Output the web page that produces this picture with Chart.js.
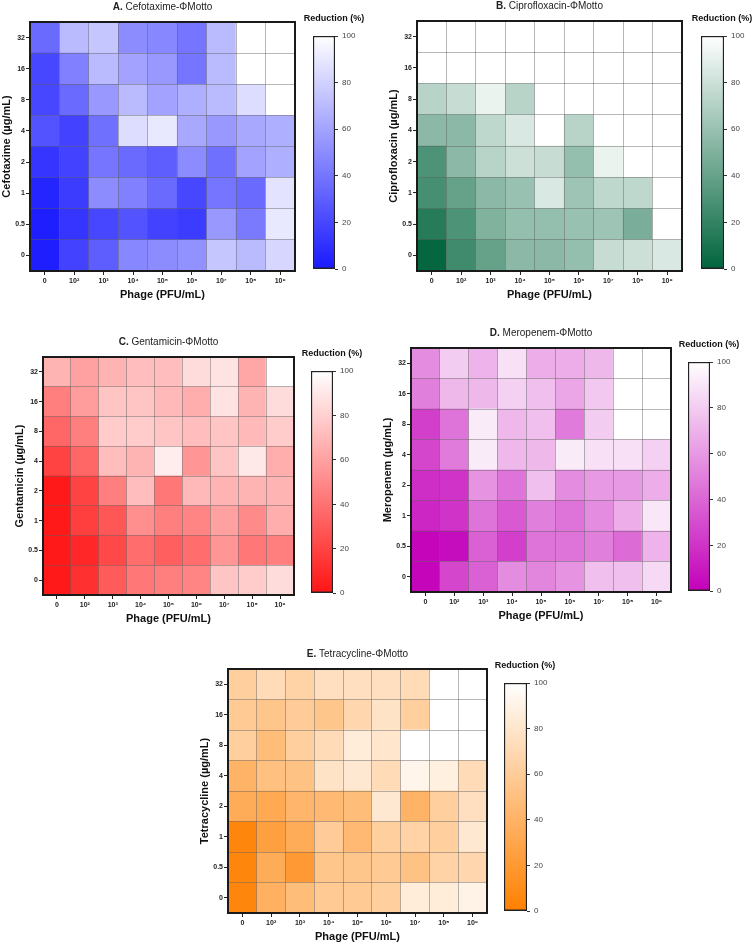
<!DOCTYPE html>
<html>
<head>
<meta charset="utf-8">
<script src="https://cdn.jsdelivr.net/npm/chart.js@4.4.1/dist/chart.umd.min.js"></script>
<style>
  html, body { margin: 0; padding: 0; background: #fff; }
  body { position: relative; width: 755px; height: 944px; overflow: hidden; }
  canvas { position: absolute; }
</style>
</head>
<body>
<script>
// columns: phage titre, rows: antibiotic concentration (bottom -> top)
const phageLabels = ['0', '10²', '10³', '10⁴', '10⁵', '10⁶', '10⁷', '10⁸', '10⁹'];
const concLabels = ['0', '0.5', '1', '2', '4', '8', '16', '32'];
const barTicks = [0, 20, 40, 60, 80, 100];

// reduction (%) per row, first row = 0 µg/mL, last row = 32 µg/mL
const cefotaxime = [
  [2, 18, 30, 48, 50, 52, 75, 70, 82],
  [2, 12, 20, 25, 18, 15, 55, 42, 90],
  [5, 15, 50, 45, 35, 20, 40, 35, 88],
  [12, 18, 40, 35, 30, 50, 38, 60, 65],
  [25, 18, 38, 85, 90, 62, 55, 62, 65],
  [20, 35, 55, 70, 60, 65, 70, 85, 100],
  [20, 45, 70, 60, 55, 40, 70, 100, 100],
  [35, 70, 75, 50, 48, 40, 70, 100, 100]
];
const ciprofloxacin = [
  [2, 25, 40, 55, 55, 58, 78, 80, 85],
  [15, 30, 50, 58, 58, 60, 62, 48, 100],
  [28, 40, 55, 60, 85, 62, 75, 75, 100],
  [30, 55, 72, 80, 78, 58, 92, 100, 100],
  [55, 55, 75, 85, 100, 72, 100, 100, 100],
  [72, 78, 92, 72, 100, 100, 100, 100, 100],
  [100, 100, 100, 100, 100, 100, 100, 100, 100],
  [100, 100, 100, 100, 100, 100, 100, 100, 100]
];
const gentamicin = [
  [2, 12, 30, 42, 45, 48, 75, 78, 85],
  [2, 8, 22, 38, 32, 38, 55, 42, 45],
  [2, 18, 28, 52, 45, 48, 60, 50, 65],
  [2, 20, 45, 72, 42, 70, 68, 68, 68],
  [20, 35, 72, 68, 92, 55, 75, 90, 65],
  [35, 45, 78, 78, 75, 72, 75, 70, 78],
  [45, 58, 75, 75, 70, 65, 88, 68, 85],
  [68, 60, 68, 72, 72, 85, 88, 62, 100]
];
const meropenem = [
  [2, 28, 38, 55, 52, 58, 75, 75, 85],
  [2, 5, 38, 25, 45, 45, 50, 42, 70],
  [15, 20, 45, 35, 50, 45, 55, 68, 90],
  [18, 20, 58, 45, 75, 55, 60, 60, 68],
  [28, 48, 92, 72, 72, 92, 88, 88, 82],
  [25, 45, 92, 72, 75, 48, 80, 100, 100],
  [50, 72, 72, 82, 75, 65, 78, 100, 100],
  [55, 80, 70, 88, 68, 68, 72, 100, 100]
];
const tetracycline = [
  [5, 38, 48, 58, 58, 62, 85, 85, 90],
  [5, 35, 20, 55, 55, 58, 52, 65, 68],
  [5, 25, 35, 60, 45, 62, 65, 62, 82],
  [35, 32, 42, 45, 48, 82, 40, 62, 75],
  [40, 50, 52, 78, 82, 72, 92, 88, 72],
  [62, 48, 62, 72, 85, 80, 100, 100, 100],
  [58, 55, 60, 55, 68, 78, 62, 100, 100],
  [62, 72, 65, 75, 75, 75, 72, 100, 100]
];

const FONT = '"Liberation Sans", Arial, Helvetica, sans-serif';
Chart.defaults.font.family = FONT;
Chart.defaults.animation = false;

function shade(base, v) {
  const t = v / 100;
  const c = base.map(b => Math.round(b + (255 - b) * t));
  return `rgb(${c[0]},${c[1]},${c[2]})`;
}

function addCanvas(left, top, w, h) {
  const cv = document.createElement('canvas');
  cv.width = w; cv.height = h;
  cv.style.left = left + 'px'; cv.style.top = top + 'px';
  cv.style.width = w + 'px'; cv.style.height = h + 'px';
  document.body.appendChild(cv);
  return cv;
}

// frame round the plot and the panel heading (bold letter + name)
const framePlugin = {
  id: 'frame',
  afterDraw(chart, args, opts) {
    const { ctx, chartArea: a } = chart;
    ctx.save();
    ctx.lineWidth = 2;
    ctx.strokeStyle = '#1a1a1a';
    ctx.strokeRect(a.left, a.top, a.right - a.left, a.bottom - a.top);
    ctx.fillStyle = '#222';
    ctx.textBaseline = 'middle';
    ctx.textAlign = 'left';
    ctx.font = 'bold 10px ' + FONT;
    const head = opts.letter + ' ';
    const w1 = ctx.measureText(head).width;
    ctx.font = '10px ' + FONT;
    const w2 = ctx.measureText(opts.text).width;
    const x = (a.left + a.right) / 2 - (w1 + w2) / 2;
    const y = a.top - 15;
    ctx.font = 'bold 10px ' + FONT;
    ctx.fillText(head, x, y);
    ctx.font = '10px ' + FONT;
    ctx.fillText(opts.text, x + w1, y);
    ctx.restore();
  }
};

const barLabelPlugin = {
  id: 'barLabel',
  afterDraw(chart) {
    const { ctx, chartArea: a } = chart;
    ctx.save();
    ctx.fillStyle = '#111';
    ctx.font = 'bold 9px ' + FONT;
    ctx.textAlign = 'center';
    ctx.textBaseline = 'middle';
    ctx.fillText('Reduction (%)', a.left + 21, a.top - 17);
    ctx.restore();
  }
};

const GRID = 'rgba(95,95,95,0.45)';
const NONE = 'rgba(0,0,0,0)';

function heatmap(plot, values, base, letter, name, yTitle) {
  const cv = addCanvas(plot.l - 30, plot.t - 22, plot.r - plot.l + 34, plot.b - plot.t + 53);
  const datasets = values.map((row, r) => ({
    data: row.map(() => [r, r + 1]),
    backgroundColor: row.map(v => shade(base, v)),
    borderWidth: 0,
    barPercentage: 1,
    categoryPercentage: 1,
    grouped: false
  }));
  new Chart(cv, {
    type: 'bar',
    data: { labels: phageLabels, datasets },
    plugins: [framePlugin],
    options: {
      responsive: false,
      layout: { padding: { top: 22, right: 4, left: 0, bottom: 0 } },
      plugins: {
        legend: { display: false },
        tooltip: { enabled: false },
        frame: { letter, text: name }
      },
      scales: {
        x: {
          type: 'category',
          offset: true,
          grid: { offset: false, drawOnChartArea: false, tickLength: 4, tickColor: '#222' },
          border: { display: false },
          ticks: { font: { size: 7, weight: 'bold' }, color: '#222', padding: 2, maxRotation: 0, autoSkip: false },
          title: { display: true, text: 'Phage (PFU/mL)', font: { size: 11, weight: 'bold' }, color: '#111', padding: 0 },
          afterFit: s => { s.height = 31; }
        },
        xg: {
          type: 'category',
          position: 'bottom',
          labels: phageLabels,
          offset: true,
          grid: { offset: true, color: GRID, drawTicks: false, z: 1 },
          ticks: { display: false },
          border: { display: false },
          afterFit: s => { s.height = 0; }
        },
        y: {
          type: 'linear',
          min: 0,
          max: 8,
          afterBuildTicks: s => {
            const t = [];
            for (let i = 0; i <= 16; i++) t.push({ value: i / 2 });
            s.ticks = t;
          },
          grid: {
            color: c => Number.isInteger(c.tick.value) ? GRID : NONE,
            tickColor: c => Number.isInteger(c.tick.value) ? NONE : '#222',
            tickLength: 4,
            z: 1
          },
          border: { display: false },
          ticks: {
            autoSkip: false,
            padding: 1,
            color: '#222',
            font: { size: 7, weight: 'bold' },
            callback: v => Number.isInteger(v) ? '' : concLabels[Math.floor(v)]
          },
          title: { display: true, text: yTitle, font: { size: 11, weight: 'bold' }, color: '#111', padding: 0 },
          afterFit: s => { s.width = 30; }
        }
      }
    }
  });
}

function colorbar(bar, base) {
  const w = bar.r - bar.l;
  const cv = addCanvas(bar.l - 13, bar.t - 24, 13 + w + 33, bar.b - bar.t + 24 + 7);
  new Chart(cv, {
    type: 'bar',
    data: {
      labels: [''],
      datasets: [{
        data: [[barTicks[0], barTicks[barTicks.length - 1]]],
        backgroundColor: c => {
          const a = c.chart.chartArea;
          if (!a) return null;
          const g = c.chart.ctx.createLinearGradient(0, a.bottom, 0, a.top);
          g.addColorStop(0, shade(base, 0));
          g.addColorStop(1, shade(base, 100));
          return g;
        },
        borderColor: '#222',
        borderWidth: 1.5,
        borderSkipped: false,
        barPercentage: 1,
        categoryPercentage: 1
      }]
    },
    plugins: [barLabelPlugin],
    options: {
      responsive: false,
      layout: { padding: { top: 24, left: 13, right: 0, bottom: 7 } },
      plugins: { legend: { display: false }, tooltip: { enabled: false } },
      scales: {
        x: { display: false },
        y: {
          position: 'right',
          min: 0,
          max: 100,
          afterBuildTicks: s => { s.ticks = barTicks.map(v => ({ value: v })); },
          grid: { drawOnChartArea: false, tickLength: 3, tickColor: '#333' },
          border: { display: false },
          ticks: { font: { size: 8 }, color: '#444', padding: 4 },
          afterFit: s => { s.width = 33; }
        }
      }
    }
  });
}

const panels = [
  { plot: { l: 30, t: 22, r: 295, b: 271 }, bar: { l: 313, t: 36, r: 335, b: 271 },
    values: cefotaxime, base: [25, 25, 255], letter: 'A.', name: 'Cefotaxime-ΦMotto', yTitle: 'Cefotaxime (µg/mL)' },
  { plot: { l: 417, t: 21, r: 682, b: 271 }, bar: { l: 701, t: 36, r: 724, b: 271 },
    values: ciprofloxacin, base: [0, 100, 60], letter: 'B.', name: 'Ciprofloxacin-ΦMotto', yTitle: 'Ciprofloxacin (µg/mL)' },
  { plot: { l: 43, t: 357, r: 294, b: 595 }, bar: { l: 311, t: 371, r: 333, b: 595 },
    values: gentamicin, base: [255, 20, 20], letter: 'C.', name: 'Gentamicin-ΦMotto', yTitle: 'Gentamicin (µg/mL)' },
  { plot: { l: 411, t: 348, r: 671, b: 592 }, bar: { l: 688, t: 362, r: 710, b: 593 },
    values: meropenem, base: [195, 0, 185], letter: 'D.', name: 'Meropenem-ΦMotto', yTitle: 'Meropenem (µg/mL)' },
  { plot: { l: 228, t: 669, r: 487, b: 913 }, bar: { l: 504, t: 683, r: 527, b: 913 },
    values: tetracycline, base: [255, 128, 0], letter: 'E.', name: 'Tetracycline-ΦMotto', yTitle: 'Tetracycline (µg/mL)' }
];

panels.forEach(p => {
  heatmap(p.plot, p.values, p.base, p.letter, p.name, p.yTitle);
  colorbar(p.bar, p.base);
});
</script>
</body>
</html>
